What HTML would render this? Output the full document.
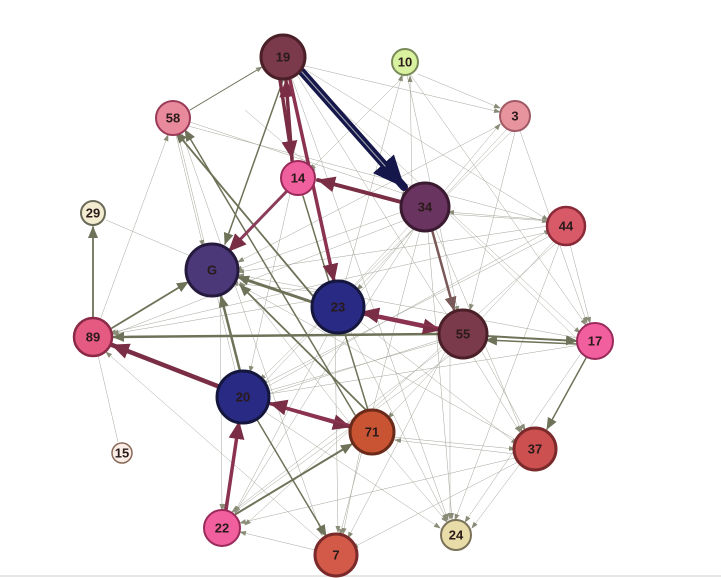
<!DOCTYPE html>
<html><head><meta charset="utf-8"><style>
html,body{margin:0;padding:0;background:#fff;}
svg{display:block;}
text{font-family:"Liberation Sans",sans-serif;font-weight:bold;font-size:13px;fill:#2a1a1a;text-anchor:middle;dominant-baseline:central;}
</style></head><body>
<svg width="721" height="578" viewBox="0 0 721 578" xmlns="http://www.w3.org/2000/svg">
<defs>
<marker id="ag" markerWidth="7" markerHeight="7" refX="6" refY="3.5" orient="auto" markerUnits="userSpaceOnUse"><path d="M0,1 L7,3.5 L0,6z" fill="#8a8c78"/></marker>
<marker id="ao" markerWidth="12" markerHeight="12" refX="11" refY="6" orient="auto" markerUnits="userSpaceOnUse"><path d="M0,1 L12,6 L0,11z" fill="#6e7258"/></marker>
<marker id="am" markerWidth="18" markerHeight="16" refX="17" refY="8" orient="auto" markerUnits="userSpaceOnUse"><path d="M0,0 L18,8 L0,16z" fill="#7a2e45"/></marker>
<marker id="an" markerWidth="32" markerHeight="28" refX="31" refY="14" orient="auto" markerUnits="userSpaceOnUse"><path d="M0,0 L32,14 L0,28z" fill="#15174a"/></marker>
<marker id="ab" markerWidth="14" markerHeight="14" refX="13" refY="7" orient="auto" markerUnits="userSpaceOnUse"><path d="M0,1 L14,7 L0,13z" fill="#7a5a58"/></marker>
</defs>
<line x1="0" y1="576" x2="721" y2="576" stroke="#e6e6e6" stroke-width="2"/>
<g stroke="#a4a69a" stroke-width="0.5" fill="none" marker-end="url(#ag)">
<line x1="305" y1="66" x2="500" y2="112"/>
<line x1="303" y1="68" x2="548" y2="220"/>
<line x1="300" y1="72" x2="580" y2="333"/>
<line x1="297" y1="75" x2="520" y2="432"/>
<line x1="292" y1="78" x2="448" y2="520"/>
<line x1="190" y1="122" x2="408" y2="195"/>
<line x1="188" y1="126" x2="548" y2="222"/>
<line x1="178" y1="134" x2="237" y2="378"/>
<line x1="182" y1="133" x2="322" y2="535"/>
<line x1="176" y1="135" x2="203" y2="246"/>
<line x1="515" y1="132" x2="470" y2="310"/>
<line x1="508" y1="128" x2="357" y2="290"/>
<line x1="502" y1="124" x2="238" y2="262"/>
<line x1="512" y1="131" x2="260" y2="380"/>
<line x1="520" y1="131" x2="587" y2="323"/>
<line x1="405" y1="75" x2="310" y2="170"/>
<line x1="407" y1="75" x2="458" y2="312"/>
<line x1="410" y1="74" x2="586" y2="325"/>
<line x1="412" y1="186" x2="410" y2="76"/>
<line x1="418" y1="74" x2="500" y2="108"/>
<line x1="548" y1="226" x2="238" y2="272"/>
<line x1="548" y1="232" x2="110" y2="333"/>
<line x1="550" y1="236" x2="260" y2="386"/>
<line x1="555" y1="240" x2="388" y2="418"/>
<line x1="560" y1="242" x2="455" y2="520"/>
<line x1="570" y1="244" x2="590" y2="323"/>
<line x1="548" y1="220" x2="448" y2="212"/>
<line x1="578" y1="338" x2="238" y2="275"/>
<line x1="580" y1="345" x2="262" y2="395"/>
<line x1="582" y1="352" x2="465" y2="522"/>
<line x1="578" y1="340" x2="445" y2="210"/>
<line x1="402" y1="212" x2="236" y2="270"/>
<line x1="405" y1="220" x2="113" y2="334"/>
<line x1="410" y1="225" x2="262" y2="385"/>
<line x1="415" y1="228" x2="235" y2="513"/>
<line x1="420" y1="230" x2="340" y2="535"/>
<line x1="428" y1="232" x2="452" y2="519"/>
<line x1="435" y1="228" x2="522" y2="432"/>
<line x1="448" y1="214" x2="565" y2="222"/>
<line x1="442" y1="350" x2="232" y2="512"/>
<line x1="445" y1="352" x2="348" y2="538"/>
<line x1="450" y1="355" x2="450" y2="519"/>
<line x1="480" y1="348" x2="525" y2="430"/>
<line x1="440" y1="342" x2="264" y2="392"/>
<line x1="330" y1="330" x2="235" y2="512"/>
<line x1="350" y1="330" x2="447" y2="520"/>
<line x1="358" y1="320" x2="517" y2="444"/>
<line x1="335" y1="332" x2="338" y2="532"/>
<line x1="315" y1="300" x2="112" y2="334"/>
<line x1="320" y1="292" x2="232" y2="283"/>
<line x1="352" y1="426" x2="240" y2="282"/>
<line x1="392" y1="437" x2="515" y2="449"/>
<line x1="385" y1="449" x2="447" y2="522"/>
<line x1="360" y1="450" x2="343" y2="534"/>
<line x1="515" y1="454" x2="395" y2="440"/>
<line x1="515" y1="458" x2="240" y2="523"/>
<line x1="518" y1="462" x2="352" y2="548"/>
<line x1="520" y1="464" x2="472" y2="528"/>
<line x1="262" y1="410" x2="440" y2="528"/>
<line x1="315" y1="550" x2="240" y2="532"/>
<line x1="320" y1="540" x2="106" y2="352"/>
<line x1="98" y1="355" x2="118" y2="442" marker-end="none"/>
<line x1="100" y1="320" x2="168" y2="135"/>
<line x1="106" y1="220" x2="195" y2="258"/>
<line x1="220" y1="293" x2="222" y2="510"/>
<line x1="242" y1="416" x2="224" y2="510"/>
<line x1="290" y1="194" x2="250" y2="372"/>
<line x1="245" y1="110" x2="315" y2="170"/>
<line x1="236" y1="283" x2="520" y2="442"/>
<line x1="265" y1="395" x2="446" y2="338"/>
<line x1="265" y1="388" x2="550" y2="230"/>
<line x1="358" y1="295" x2="500" y2="124"/>
<line x1="345" y1="283" x2="402" y2="75"/>
<line x1="565" y1="235" x2="245" y2="525"/>
<line x1="230" y1="515" x2="455" y2="352"/>
</g>
<g fill="none" stroke-linecap="round">
<line x1="283" y1="80" x2="225" y2="244" stroke="#6e7258" stroke-width="1.5" marker-end="url(#ao)"/>
<line x1="190" y1="110" x2="262" y2="67" stroke="#6e7258" stroke-width="1" marker-end="url(#ag)"/>
<line x1="318" y1="302" x2="176" y2="132" stroke="#6e7258" stroke-width="1.8" marker-end="url(#ao)"/>
<line x1="355" y1="415" x2="185" y2="130" stroke="#6e7258" stroke-width="1.5" marker-end="url(#ao)"/>
<line x1="312" y1="302" x2="238" y2="277" stroke="#6e7258" stroke-width="3" marker-end="url(#ao)"/>
<line x1="240" y1="371" x2="221" y2="296" stroke="#6e7258" stroke-width="2.5" marker-end="url(#ao)"/>
<line x1="368" y1="412" x2="240" y2="285" stroke="#6e7258" stroke-width="1.8" marker-end="url(#ao)"/>
<line x1="303" y1="196" x2="368" y2="410" stroke="#6e7258" stroke-width="1.5"/>
<line x1="440" y1="334" x2="113" y2="337" stroke="#6e7258" stroke-width="2.5" marker-end="url(#ao)"/>
<line x1="112" y1="328" x2="188" y2="282" stroke="#6e7258" stroke-width="1.8" marker-end="url(#ao)"/>
<line x1="93" y1="318" x2="93" y2="227" stroke="#6e7258" stroke-width="1.8" marker-end="url(#ao)"/>
<line x1="236" y1="514" x2="352" y2="444" stroke="#6e7258" stroke-width="2" marker-end="url(#ao)"/>
<line x1="256" y1="418" x2="326" y2="536" stroke="#6e7258" stroke-width="1.5" marker-end="url(#ao)"/>
<line x1="586" y1="358" x2="547" y2="429" stroke="#6e7258" stroke-width="1.5" marker-end="url(#ao)"/>
<line x1="486" y1="336" x2="577" y2="341" stroke="#6e7258" stroke-width="2" marker-end="url(#ao)"/>
<line x1="577" y1="344" x2="486" y2="340" stroke="#6e7258" stroke-width="1.5" marker-end="url(#ao)"/>
<line x1="432" y1="230" x2="454" y2="310" stroke="#7a5a58" stroke-width="2.5" marker-end="url(#ab)"/>
<line x1="302" y1="72" x2="404" y2="187" stroke="#15174a" stroke-width="8" marker-end="url(#an)"/>
<line x1="302" y1="72" x2="385" y2="166" stroke="#9a9eaa" stroke-width="1.2"/>
<line x1="401" y1="202" x2="318" y2="180" stroke="#7a2e45" stroke-width="4" marker-end="url(#am)"/>
<line x1="292" y1="160" x2="286" y2="80" stroke="#7a2e45" stroke-width="3.5" marker-end="url(#am)"/>
<line x1="280" y1="80" x2="292" y2="158" stroke="#7a2e45" stroke-width="3.5" marker-end="url(#am)"/>
<line x1="290" y1="80" x2="334" y2="281" stroke="#8a3250" stroke-width="3.5" marker-end="url(#am)"/>
<line x1="286" y1="192" x2="229" y2="251" stroke="#8a3c5a" stroke-width="3" marker-end="url(#am)"/>
<line x1="359" y1="313" x2="440" y2="330" stroke="#8a3250" stroke-width="3.5" marker-end="url(#am)"/>
<line x1="440" y1="328" x2="362" y2="312" stroke="#8a3250" stroke-width="2" marker-end="url(#am)"/>
<line x1="220" y1="387" x2="112" y2="345" stroke="#7a2e45" stroke-width="4.5" marker-end="url(#am)"/>
<line x1="268" y1="403" x2="350" y2="427" stroke="#8a3250" stroke-width="3.5" marker-end="url(#am)"/>
<line x1="350" y1="425" x2="270" y2="403" stroke="#8a3250" stroke-width="2" marker-end="url(#am)"/>
<line x1="226" y1="510" x2="239" y2="422" stroke="#8a3250" stroke-width="3.5" marker-end="url(#am)"/>
</g>
<g stroke-width="3">
<circle cx="283" cy="57" r="22" fill="#7a3a4c" stroke="#4a1f28"/>
<circle cx="405" cy="62" r="13" fill="#d9f2a0" stroke="#7a8a58" stroke-width="2"/>
<circle cx="515" cy="116" r="15" fill="#e8949e" stroke="#a05a66" stroke-width="2"/>
<circle cx="173" cy="118" r="17" fill="#e8899c" stroke="#9a3a58" stroke-width="2"/>
<circle cx="298" cy="178" r="17" fill="#f05f9e" stroke="#9a2a5a" stroke-width="2"/>
<circle cx="425" cy="207" r="24" fill="#6a3460" stroke="#3a1a30"/>
<circle cx="566" cy="226" r="19" fill="#d85a68" stroke="#8a2a38" stroke-width="2.5"/>
<circle cx="93" cy="213" r="12" fill="#f3ecd0" stroke="#6a6a58" stroke-width="2"/>
<circle cx="212" cy="270" r="26" fill="#4b3878" stroke="#251a3e"/>
<circle cx="338" cy="307" r="26" fill="#282a84" stroke="#14163e"/>
<circle cx="463" cy="334" r="24" fill="#7a3a4c" stroke="#4a1f28"/>
<circle cx="595" cy="341" r="18" fill="#f25f9e" stroke="#9a2a5a" stroke-width="2"/>
<circle cx="93" cy="337" r="19" fill="#e55a80" stroke="#8a2a48" stroke-width="2.5"/>
<circle cx="243" cy="397" r="26" fill="#282a84" stroke="#14163e"/>
<circle cx="372" cy="432" r="22" fill="#c85434" stroke="#6a2a1a"/>
<circle cx="535" cy="449" r="21" fill="#cc5050" stroke="#7a2a2a"/>
<circle cx="122" cy="453" r="10" fill="#fbeee6" stroke="#8a6a5a" stroke-width="1.5"/>
<circle cx="222" cy="528" r="18" fill="#f25f9e" stroke="#9a2a5a" stroke-width="2"/>
<circle cx="336" cy="555" r="21" fill="#d35a48" stroke="#7a2a2a"/>
<circle cx="456" cy="535" r="15" fill="#e8dca8" stroke="#7a7258" stroke-width="2"/>
</g>
<g>
<text x="283" y="57">19</text><text x="405" y="62">10</text><text x="515" y="116">3</text>
<text x="173" y="118">58</text><text x="298" y="178">14</text><text x="425" y="207">34</text>
<text x="566" y="226">44</text><text x="93" y="213">29</text><text x="212" y="270">G</text>
<text x="338" y="307">23</text><text x="463" y="334">55</text><text x="595" y="341">17</text>
<text x="93" y="337">89</text><text x="243" y="397">20</text><text x="372" y="432">71</text>
<text x="535" y="449">37</text><text x="122" y="453">15</text><text x="222" y="528">22</text>
<text x="336" y="555">7</text><text x="456" y="535">24</text>
</g>
</svg>
</body></html>
